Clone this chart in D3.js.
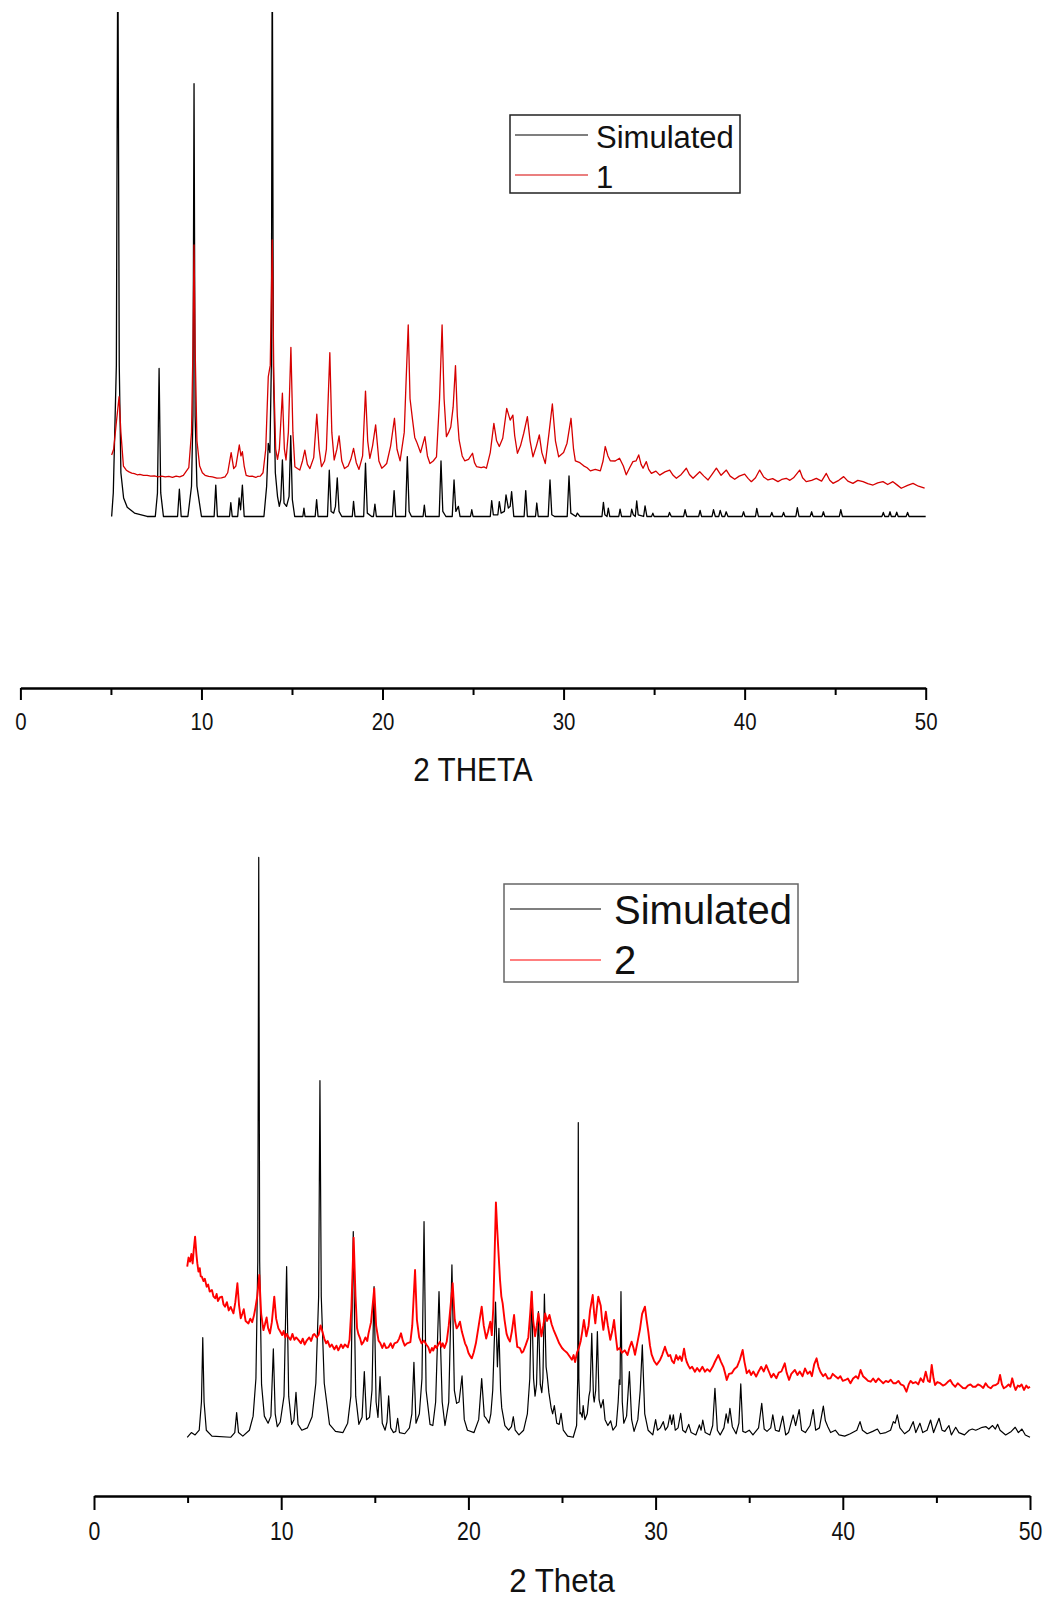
<!DOCTYPE html>
<html>
<head>
<meta charset="utf-8">
<script src="https://cdn.jsdelivr.net/npm/d3@7"></script>
<style>
  html, body { margin: 0; padding: 0; background: #fff; }
  svg { display: block; font-family: "Liberation Sans", Arial, sans-serif; }
</style>
</head>
<body>
<svg id="chart" width="1048" height="1599"></svg>
<script>
// Powder XRD patterns: [2theta, intensity (a.u.)]

// Compound 1 — simulated pattern
const sim1 = [
  [5.04,0],[5.13,140],[5.3,900],[5.38,3500],[5.46,900],[5.55,260],[5.7,110],[5.9,55],[6.3,20],[7.0,0],
  [7.45,0],[7.57,140],[7.66,880],[7.75,140],[7.9,0],
  [8.68,0],[8.78,162],[8.88,0],
  [9.25,0],[9.45,180],[9.53,600],[9.59,2574],[9.65,600],[9.75,180],[10.0,0],
  [10.7,0],[10.79,187],[10.88,0],
  [11.55,0],[11.62,82],[11.7,0],
  [12.0,0],[12.08,110],[12.16,40],[12.26,187],[12.36,0],
  [13.45,0],[13.6,180],[13.69,435],[13.78,380],[13.86,900],[13.91,3500],[13.97,900],[14.08,260],[14.2,120],[14.3,60],
  [14.38,100],[14.47,336],[14.56,80],[14.7,60],[14.84,120],[14.93,480],[15.02,100],[15.15,0],
  [15.6,0],[15.66,50],[15.72,0],
  [16.28,0],[16.36,100],[16.44,0],
  [16.96,0],[17.06,275],[17.16,30],[17.3,20],[17.4,60],[17.5,230],[17.6,30],[17.75,0],
  [18.33,0],[18.4,90],[18.48,0],
  [18.96,0],[19.06,317],[19.16,20],[19.4,0],[19.5,0],[19.58,74],[19.66,0],
  [20.55,0],[20.64,154],[20.73,0],
  [21.27,0],[21.37,356],[21.47,30],[21.6,0],
  [22.24,0],[22.31,68],[22.38,0],
  [23.13,0],[23.23,330],[23.33,30],[23.5,0],[23.85,0],[23.95,217],[24.05,30],[24.19,60],[24.28,0],
  [24.86,0],[24.93,40],[25.0,0],
  [25.95,0],[26.03,94],[26.12,10],[26.37,10],[26.45,88],[26.55,20],[26.73,30],[26.82,128],[26.95,50],[27.05,60],[27.13,148],[27.25,0],
  [27.82,0],[27.91,154],[28.0,0],
  [28.45,0],[28.52,80],[28.6,0],
  [29.15,0],[29.25,217],[29.35,10],[29.5,0],
  [30.2,0],[30.3,241],[30.4,20],[30.68,0],[30.76,20],[30.9,0],
  [32.12,0],[32.2,84],[32.28,10],[32.4,0],[32.47,50],[32.55,0],
  [33.05,0],[33.12,44],[33.2,0],
  [33.7,0],[33.76,43],[33.85,10],[33.96,0],[34.04,92],[34.12,10],[34.42,0],[34.5,63],[34.6,0],
  [34.86,0],[34.93,20],[35.0,0],[35.78,0],[35.85,24],[35.95,0],[36.63,0],[36.71,40],[36.8,0],
  [37.46,0],[37.54,36],[37.62,0],[38.2,0],[38.28,40],[38.38,0],[38.57,0],[38.65,36],[38.75,0],
  [38.9,0],[38.98,28],[39.08,0],[39.86,0],[39.94,28],[40.02,0],[40.6,0],[40.67,48],[40.76,0],
  [41.42,0],[41.5,24],[41.58,0],[42.07,0],[42.15,24],[42.23,0],[42.83,0],[42.91,52],[43.0,0],
  [43.62,0],[43.7,28],[43.78,0],[44.27,0],[44.35,28],[44.43,0],[45.23,0],[45.31,40],[45.4,0],
  [47.58,0],[47.66,24],[47.74,0],[47.95,0],[48.03,28],[48.1,0],[48.32,0],[48.4,26],[48.48,0],
  [48.92,0],[49.0,24],[49.08,0],[50.0,0]
];

// Compound 1 — measured pattern
const exp1 = [
  [5.04,366],[5.15,400],[5.3,560],[5.45,712],[5.55,500],[5.69,300],[5.85,275],[6.0,265],[6.15,258],[6.3,255],
  [6.45,248],[6.6,250],[6.8,244],[7.0,245],[7.2,240],[7.4,242],[7.6,236],[7.8,240],[8.0,235],[8.2,238],[8.4,232],
  [8.6,240],[8.8,236],[9.0,245],[9.3,290],[9.45,500],[9.53,1000],[9.59,1615],[9.65,1000],[9.75,450],[9.9,300],
  [10.05,260],[10.2,245],[10.4,238],[10.6,235],[10.85,228],[11.1,230],[11.3,236],[11.45,260],[11.64,380],[11.78,285],
  [11.9,300],[12.09,425],[12.18,360],[12.26,385],[12.36,300],[12.47,245],[12.65,238],[12.8,240],[13.0,232],[13.1,238],
  [13.25,240],[13.4,260],[13.55,400],[13.69,831],[13.8,900],[13.91,1645],[14.0,800],[14.1,400],[14.2,340],[14.3,400],
  [14.47,733],[14.58,400],[14.67,336],[14.8,500],[14.94,1006],[15.05,500],[15.16,296],[15.3,285],[15.43,276],[15.58,330],
  [15.71,395],[15.85,310],[15.99,285],[16.2,350],[16.37,608],[16.5,400],[16.63,296],[16.8,330],[16.9,400],[17.09,974],
  [17.2,500],[17.33,336],[17.48,400],[17.6,479],[17.75,330],[17.9,285],[18.1,300],[18.25,340],[18.4,405],[18.55,320],
  [18.7,280],[18.9,360],[19.06,746],[19.18,450],[19.3,345],[19.45,420],[19.62,545],[19.8,330],[19.96,287],[20.1,300],
  [20.23,315],[20.45,420],[20.66,584],[20.8,400],[20.97,331],[21.2,500],[21.3,800],[21.42,1139],[21.52,700],[21.66,573],
  [21.78,470],[21.88,445],[22.1,380],[22.34,475],[22.48,360],[22.62,315],[22.8,330],[22.98,355],[23.15,700],[23.29,1139],
  [23.4,700],[23.53,475],[23.65,500],[23.77,532],[23.9,650],[24.03,897],[24.13,600],[24.23,455],[24.4,360],[24.54,331],
  [24.75,340],[24.97,376],[25.08,320],[25.19,297],[25.45,290],[25.6,295],[25.74,287],[25.95,380],[26.15,554],[26.3,450],
  [26.45,416],[26.64,465],[26.86,643],[27.05,573],[27.2,603],[27.3,480],[27.45,376],[27.62,420],[27.8,495],[28.0,594],
  [28.15,450],[28.31,355],[28.5,420],[28.66,485],[28.8,380],[28.99,315],[29.2,500],[29.38,669],[29.55,450],[29.73,355],
  [30.0,380],[30.19,436],[30.41,584],[30.55,400],[30.65,331],[30.9,320],[31.11,301],[31.3,290],[31.48,271],[31.75,280],
  [32.03,271],[32.18,330],[32.3,416],[32.45,360],[32.58,331],[32.85,330],[33.09,346],[33.3,300],[33.46,248],[33.65,290],
  [33.83,326],[34.0,330],[34.15,366],[34.28,310],[34.39,287],[34.57,326],[34.7,280],[34.85,256],[35.1,270],[35.31,246],
  [35.6,265],[35.86,276],[36.05,245],[36.23,227],[36.5,250],[36.78,287],[36.95,250],[37.15,227],[37.52,266],[37.75,240],
  [37.98,217],[38.2,250],[38.44,287],[38.7,245],[38.99,276],[39.2,240],[39.45,221],[39.7,240],[40.0,252],[40.2,225],
  [40.37,207],[40.6,230],[40.83,276],[41.05,235],[41.29,217],[41.55,225],[41.84,207],[42.05,220],[42.3,227],[42.5,215],
  [42.7,230],[43.04,276],[43.2,230],[43.4,207],[43.7,215],[43.96,227],[44.25,210],[44.51,256],[44.7,215],[44.88,197],
  [45.2,215],[45.47,237],[45.7,210],[45.98,197],[46.25,215],[46.54,207],[46.8,195],[47.09,187],[47.35,200],[47.64,207],
  [47.9,190],[48.19,207],[48.45,185],[48.65,168],[49.0,185],[49.3,197],[49.6,180],[49.94,168]
];

// Compound 2 — simulated pattern
const sim2 = [
  [4.98,0],[5.2,40],[5.4,20],[5.62,60],[5.74,300],[5.81,848],[5.88,300],[6.0,60],[6.3,10],[7.3,0],[7.52,40],[7.62,210],[7.72,40],[7.95,10],
  [8.3,60],[8.5,180],[8.65,500],[8.75,1500],[8.8,4937],[8.85,1500],[8.95,450],[9.1,180],[9.3,120],[9.45,180],[9.58,752],[9.68,200],
  [9.79,90],[9.95,130],[10.15,350],[10.29,1453],[10.4,350],[10.56,110],[10.68,150],[10.79,383],[10.9,110],[11.1,60],[11.4,80],
  [11.65,175],[11.85,460],[12.0,1200],[12.07,3036],[12.14,1200],[12.3,460],[12.58,110],[12.9,50],[13.3,40],[13.55,120],[13.72,350],
  [13.85,1751],[13.98,350],[14.15,110],[14.32,170],[14.44,559],[14.56,150],[14.72,170],[14.85,400],[14.96,1283],[15.07,300],
  [15.17,170],[15.28,516],[15.4,120],[15.55,60],[15.65,130],[15.74,352],[15.85,80],[16.0,40],[16.12,50],[16.22,162],[16.32,40],
  [16.6,30],[16.85,80],[16.98,200],[17.09,638],[17.2,120],[17.38,200],[17.52,500],[17.63,1836],[17.74,400],[17.95,110],[18.1,100],
  [18.25,300],[18.43,1240],[18.6,300],[18.75,100],[18.95,300],[19.12,1467],[19.25,400],[19.37,289],[19.5,300],[19.66,522],
  [19.78,150],[19.95,60],[20.3,40],[20.55,150],[20.71,499],[20.85,180],[20.95,160],[21.1,120],[21.2,200],[21.3,400],[21.45,1150],
  [21.55,600],[21.63,928],[21.72,400],[21.78,250],[21.95,100],[22.15,60],[22.3,90],[22.4,175],[22.5,60],[22.7,20],[22.95,60],
  [23.15,200],[23.28,500],[23.38,1240],[23.48,500],[23.56,350],[23.64,450],[23.74,1069],[23.84,450],[23.92,380],[23.98,500],
  [24.06,1220],[24.15,600],[24.2,540],[24.3,380],[24.42,250],[24.5,200],[24.59,270],[24.72,120],[24.85,110],[24.95,204],[25.07,60],
  [25.3,10],[25.6,0],[25.78,100],[25.84,500],[25.87,2680],[25.9,500],[25.96,200],[26.0,210],[26.08,170],[26.13,270],[26.22,150],
  [26.35,200],[26.44,350],[26.5,400],[26.59,885],[26.68,350],[26.72,300],[26.8,400],[26.89,900],[26.98,320],[27.08,250],[27.2,320],
  [27.3,150],[27.45,100],[27.6,140],[27.72,60],[27.9,100],[28.0,300],[28.06,488],[28.1,450],[28.15,1240],[28.22,300],[28.3,120],
  [28.45,180],[28.6,559],[28.72,150],[28.85,50],[29.05,150],[29.18,400],[29.29,786],[29.42,200],[29.6,60],[29.85,20],[30.0,150],
  [30.1,60],[30.25,80],[30.41,133],[30.52,60],[30.65,90],[30.77,190],[30.86,110],[30.95,190],[31.05,60],[31.2,80],[31.34,204],
  [31.45,60],[31.6,40],[31.77,110],[31.9,40],[32.15,20],[32.34,105],[32.43,60],[32.52,147],[32.65,40],[32.9,20],[33.05,100],
  [33.17,417],[33.3,60],[33.45,20],[33.65,80],[33.77,200],[33.87,120],[33.97,247],[34.1,90],[34.3,30],[34.45,120],[34.55,454],
  [34.66,50],[34.8,40],[35.0,60],[35.2,20],[35.5,80],[35.67,289],[35.8,70],[35.95,50],[36.15,80],[36.26,190],[36.4,60],[36.6,50],
  [36.79,180],[36.95,20],[37.1,40],[37.35,190],[37.48,100],[37.67,235],[37.8,60],[38.0,40],[38.25,100],[38.42,235],[38.55,60],
  [38.75,80],[38.96,266],[39.07,140],[39.2,90],[39.35,40],[39.6,60],[39.8,20],[40.1,10],[40.4,30],[40.75,60],[40.92,133],[41.05,60],
  [41.3,30],[41.6,50],[41.85,70],[42.0,30],[42.3,40],[42.55,60],[42.7,133],[42.8,120],[42.91,190],[43.05,80],[43.3,30],[43.55,60],
  [43.76,133],[43.9,40],[44.12,120],[44.27,40],[44.5,60],[44.69,147],[44.85,40],[45.14,162],[45.3,60],[45.45,50],[45.67,100],
  [45.8,20],[46.03,85],[46.2,40],[46.5,20],[46.75,60],[46.92,70],[47.1,60],[47.25,70],[47.45,85],[47.65,90],[47.8,70],[48.0,100],
  [48.15,70],[48.27,110],[48.4,60],[48.7,20],[49.0,50],[49.21,85],[49.38,40],[49.57,70],[49.75,20],[50.0,0]
];

// Compound 2 — measured pattern
const exp2 = [
  [4.98,1453],[5.05,1530],[5.13,1496],[5.2,1560],[5.27,1480],[5.33,1600],[5.4,1708],[5.47,1560],[5.52,1480],[5.58,1410],
  [5.65,1440],[5.7,1370],[5.76,1367],[5.85,1330],[5.92,1350],[6.02,1282],[6.1,1300],[6.18,1240],[6.3,1254],[6.38,1200],
  [6.48,1183],[6.55,1220],[6.62,1160],[6.72,1190],[6.84,1197],[6.92,1130],[7.0,1112],[7.1,1150],[7.2,1080],[7.3,1110],
  [7.45,1055],[7.55,1150],[7.66,1311],[7.75,1120],[7.84,1013],[7.92,1050],[8.0,1090],[8.1,990],[8.25,969],[8.35,1010],
  [8.45,980],[8.55,1040],[8.62,1100],[8.72,1200],[8.83,1382],[8.93,1050],[9.05,912],[9.13,960],[9.22,1020],[9.3,930],
  [9.4,884],[9.5,980],[9.63,1197],[9.73,1010],[9.85,927],[9.95,900],[10.05,870],[10.13,905],[10.22,850],[10.3,880],
  [10.4,850],[10.5,830],[10.6,880],[10.7,830],[10.8,850],[10.95,823],[11.05,800],[11.15,840],[11.25,790],[11.35,820],
  [11.5,850],[11.6,820],[11.7,870],[11.77,879],[11.9,850],[12.0,873],[12.1,953],[12.2,900],[12.3,840],[12.4,800],
  [12.48,820],[12.6,770],[12.7,790],[12.84,749],[12.95,780],[13.05,740],[13.2,790],[13.3,760],[13.4,790],[13.56,766],
  [13.65,830],[13.75,1100],[13.87,1700],[13.97,1200],[14.05,930],[14.12,880],[14.22,840],[14.3,790],[14.39,810],[14.5,850],
  [14.6,820],[14.66,880],[14.8,980],[14.97,1268],[15.07,950],[15.2,823],[15.3,800],[15.4,760],[15.5,800],[15.6,760],
  [15.73,766],[15.85,800],[15.95,760],[16.05,800],[16.2,810],[16.3,840],[16.4,885],[16.5,820],[16.6,780],[16.72,800],
  [16.9,810],[17.0,950],[17.15,1424],[17.25,1000],[17.37,850],[17.5,800],[17.63,823],[17.75,790],[17.86,766],[17.95,720],
  [18.05,760],[18.12,738],[18.22,780],[18.3,760],[18.39,790],[18.48,813],[18.56,770],[18.63,800],[18.72,760],[18.84,813],
  [18.95,950],[19.16,1311],[19.27,1000],[19.37,927],[19.46,950],[19.55,984],[19.65,900],[19.73,854],[19.82,800],[19.91,770],
  [20.0,720],[20.1,690],[20.18,672],[20.28,720],[20.4,800],[20.55,950],[20.71,1112],[20.82,950],[20.95,840],[21.05,900],
  [21.17,984],[21.25,870],[21.33,1100],[21.47,2000],[21.53,1800],[21.6,1595],[21.69,1339],[21.76,1200],[21.83,1140],[21.93,1000],
  [22.04,880],[22.13,840],[22.22,815],[22.32,900],[22.44,1041],[22.52,900],[22.61,770],[22.75,760],[22.85,720],[22.93,730],
  [23.05,780],[23.2,850],[23.3,1050],[23.38,1240],[23.46,1000],[23.56,860],[23.65,950],[23.74,1055],[23.83,950],[23.9,860],
  [24.0,950],[24.1,1055],[24.2,990],[24.33,1041],[24.45,960],[24.55,915],[24.64,880],[24.72,850],[24.85,800],[25.0,760],
  [25.12,740],[25.27,720],[25.4,690],[25.53,660],[25.62,700],[25.7,640],[25.8,720],[25.9,760],[26.0,820],[26.08,900],
  [26.17,999],[26.3,860],[26.42,950],[26.5,1080],[26.64,1211],[26.72,1050],[26.78,970],[26.86,1100],[26.94,1197],[27.07,1120],
  [27.14,1000],[27.21,915],[27.34,1069],[27.45,950],[27.58,830],[27.68,900],[27.78,999],[27.88,850],[27.96,745],[28.08,760],
  [28.2,720],[28.35,740],[28.5,700],[28.6,760],[28.72,814],[28.82,760],[28.9,703],[29.02,800],[29.16,915],[29.28,1050],
  [29.43,1112],[29.52,1000],[29.61,900],[29.7,780],[29.79,703],[29.92,650],[30.06,617],[30.16,640],[30.24,658],[30.35,700],
  [30.5,771],[30.6,720],[30.68,690],[30.78,700],[30.88,650],[30.98,630],[31.1,700],[31.2,660],[31.3,690],[31.4,650],
  [31.52,755],[31.6,680],[31.66,643],[31.75,610],[31.84,586],[31.95,600],[32.1,558],[32.22,590],[32.35,560],[32.5,600],
  [32.64,558],[32.76,580],[32.9,560],[33.05,600],[33.17,643],[33.35,700],[33.5,640],[33.62,600],[33.72,540],[33.8,488],
  [33.92,540],[34.07,545],[34.2,580],[34.35,600],[34.5,660],[34.65,743],[34.75,640],[34.87,545],[35.0,570],[35.1,530],
  [35.22,560],[35.37,517],[35.5,560],[35.64,600],[35.78,560],[35.91,614],[36.05,560],[36.18,510],[36.3,540],[36.45,502],
  [36.58,550],[36.72,560],[36.9,630],[37.0,550],[37.13,488],[37.25,540],[37.44,573],[37.58,530],[37.7,560],[37.85,520],
  [37.98,586],[38.12,540],[38.25,560],[38.35,520],[38.47,620],[38.6,672],[38.7,600],[38.8,558],[38.95,520],[39.07,540],
  [39.2,500],[39.34,502],[39.46,540],[39.6,520],[39.75,500],[39.87,520],[40.0,480],[40.14,488],[40.27,500],[40.41,460],
  [40.55,500],[40.7,520],[40.82,500],[40.95,573],[41.08,520],[41.22,500],[41.35,480],[41.49,473],[41.62,500],[41.76,470],
  [41.9,500],[42.03,480],[42.16,460],[42.3,480],[42.43,470],[42.56,490],[42.7,460],[42.83,460],[42.97,480],[43.1,450],
  [43.25,440],[43.4,388],[43.52,450],[43.62,480],[43.75,460],[43.9,470],[44.03,450],[44.16,502],[44.3,470],[44.43,558],
  [44.55,480],[44.65,470],[44.75,616],[44.85,500],[44.93,445],[45.05,470],[45.2,460],[45.35,440],[45.48,450],[45.6,470],
  [45.74,488],[45.88,450],[46.01,430],[46.14,460],[46.28,440],[46.42,420],[46.55,417],[46.68,440],[46.82,450],[46.95,430],
  [47.09,430],[47.22,450],[47.36,440],[47.5,420],[47.63,460],[47.76,430],[47.9,417],[48.03,440],[48.17,445],[48.3,460],
  [48.4,530],[48.5,450],[48.6,417],[48.73,430],[48.86,450],[48.95,430],[49.05,502],[49.15,440],[49.23,403],[49.35,440],
  [49.45,430],[49.55,450],[49.68,403],[49.8,440],[49.9,420],[50.0,430]
];

// Axis ticks and labels
const xTicks = [0, 10, 20, 30, 40, 50];
const xMinorTicks = [5, 15, 25, 35, 45];
const xDomain = [0, 50];
const seriesNames1 = ["Simulated", "1"];
const seriesNames2 = ["Simulated", "2"];
const axisTitle1 = "2 THETA";
const axisTitle2 = "2 Theta";

// Panel layout
const panels = [
  {
    id: "p1", sim: sim1, exp: exp1, names: seriesNames1, title: axisTitle1,
    xRange: [20.4, 925.7], yDomain: [-1020, 3000], yRange: [688, 12],
    simWidth: 1.3, expColor: "#d60000", expWidth: 1.3,
    majorTick: 12, minorTick: 7, tickFont: 24, tickBase: 42, tickScale: 0.85,
    titleX: 473, titleY: 781, titleFont: 33, titleScale: 0.9,
    legend: { x: 510, y: 115, w: 230, h: 78, lineX0: 515, lineX1: 588, y0: 135, y1: 175,
              textX: 596, base0: 148, base1: 188, font: 31, stroke: "#222" }
  },
  {
    id: "p2", sim: sim2, exp: exp2, names: seriesNames2, title: axisTitle2,
    xRange: [94, 1030], yDomain: [-500, 5000], yRange: [1496, 850],
    simWidth: 1.2, expColor: "#ff0000", expWidth: 1.9,
    majorTick: 14, minorTick: 7, tickFont: 25, tickBase: 44, tickScale: 0.85,
    titleX: 562, titleY: 1592, titleFont: 33, titleScale: 0.95,
    legend: { x: 504, y: 884, w: 294, h: 98, lineX0: 510, lineX1: 601, y0: 909, y1: 960,
              textX: 614, base0: 924, base1: 974, font: 40, stroke: "#666" }
  }
];

const svg = d3.select("#chart");
const defs = svg.append("defs");

panels.forEach(p => {
  const x = d3.scaleLinear().domain(xDomain).range(p.xRange);
  const y = d3.scaleLinear().domain(p.yDomain).range(p.yRange);

  defs.append("clipPath").attr("id", "clip-" + p.id)
    .append("rect")
    .attr("x", 0).attr("width", 1048)
    .attr("y", p.yRange[1]).attr("height", p.yRange[0] - p.yRange[1]);

  const g = svg.append("g");
  const plot = g.append("g").attr("clip-path", `url(#clip-${p.id})`);

  const line = d3.line().x(d => x(d[0])).y(d => y(d[1]));

  plot.append("path").datum(p.sim)
    .attr("d", line).attr("fill", "none")
    .attr("stroke", "#000").attr("stroke-width", p.simWidth)
    .attr("stroke-linejoin", "round");

  plot.append("path").datum(p.exp)
    .attr("d", line).attr("fill", "none")
    .attr("stroke", p.expColor).attr("stroke-width", p.expWidth)
    .attr("stroke-linejoin", "round");

  // Bottom axis: major ticks with labels, minor ticks unlabeled
  const axisY = p.yRange[0];
  const major = g.append("g").attr("transform", `translate(0,${axisY})`)
    .call(d3.axisBottom(x).tickValues(xTicks).tickSize(p.majorTick).tickSizeOuter(0).tickFormat(d3.format("d")));
  major.select(".domain").attr("stroke", "#000").attr("stroke-width", 2.4);
  major.selectAll(".tick line").attr("stroke", "#000").attr("stroke-width", 2);
  major.selectAll(".tick text")
    .attr("y", 0).attr("dy", null)
    .attr("fill", "#111")
    .style("font-family", '"Liberation Sans", Arial, sans-serif')
    .style("font-size", p.tickFont + "px")
    .attr("transform", `translate(0,${p.tickBase}) scale(${p.tickScale},1)`);

  const minor = g.append("g").attr("transform", `translate(0,${axisY})`)
    .call(d3.axisBottom(x).tickValues(xMinorTicks).tickSize(p.minorTick).tickSizeOuter(0).tickFormat(""));
  minor.select(".domain").remove();
  minor.selectAll(".tick line").attr("stroke", "#000").attr("stroke-width", 2);

  g.append("text")
    .attr("text-anchor", "middle")
    .attr("transform", `translate(${p.titleX},${p.titleY}) scale(${p.titleScale},1)`)
    .style("font-size", p.titleFont + "px")
    .attr("fill", "#111")
    .text(p.title);

  // Legend box
  const L = p.legend;
  const lg = g.append("g");
  lg.append("rect")
    .attr("x", L.x).attr("y", L.y).attr("width", L.w).attr("height", L.h)
    .attr("fill", "#fff").attr("stroke", L.stroke).attr("stroke-width", 1.5);
  const entries = [
    { name: p.names[0], color: "#000", ly: L.y0, by: L.base0 },
    { name: p.names[1], color: p.expColor, ly: L.y1, by: L.base1 }
  ];
  entries.forEach(e => {
    lg.append("line")
      .attr("x1", L.lineX0).attr("x2", L.lineX1)
      .attr("y1", e.ly).attr("y2", e.ly)
      .attr("stroke", e.color).attr("stroke-width", 1.2);
    lg.append("text")
      .attr("x", L.textX).attr("y", e.by)
      .style("font-size", L.font + "px")
      .attr("fill", "#111")
      .text(e.name);
  });
});
</script>
</body>
</html>
